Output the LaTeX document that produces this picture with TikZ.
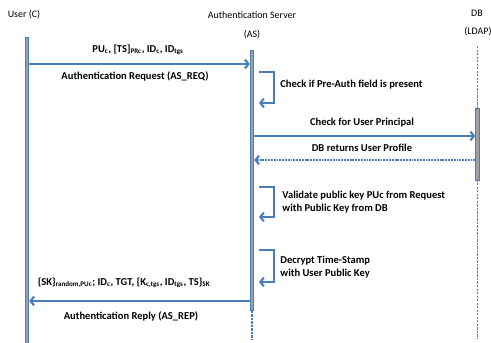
\documentclass[tikz,border=0pt]{standalone}
\usepackage{fontspec}
\setmainfont{Carlito}
\usetikzlibrary{arrows.meta}
\definecolor{msgblue}{HTML}{4A7EBB}
\definecolor{bargray}{HTML}{9CA1A8}

\begin{document}
\begin{tikzpicture}[x=0.03cm, y=-0.03cm,
% common options for the lifeline bars:
bar/.style = {draw=msgblue, fill=bargray, line width=0.7pt, minimum width=0.11cm,
            inner sep=0, anchor=north},
% common options for the messages:
msg/.style = {draw=msgblue, line width=1.8pt, -{Straight Barb[length=3pt,width=7.5pt]}},
reply/.style = {msg, dash pattern=on 1.6pt off 0.8pt},
lifeline/.style = {draw=msgblue, line width=1pt, dash pattern=on 2pt off 1pt},
lbl/.style = {font=\fontsize{9}{10.5}\selectfont\bfseries, inner sep=1pt, align=left},
head/.style = {font=\fontsize{8.5}{10}\selectfont, inner sep=0}]
\useasboundingbox (0,0) rectangle (491,343);

% heads
\node[head] (user) at (24,15) {User (C)};
\node[head] (as) at (252,15) {Authentication Server};
\node[head] (asb) at (252,35) {(AS)};
\node[head] (db) at (477,13) {DB};
\node[head] (dbb) at (478,32) {(LDAP)};

% lifelines
\coordinate (asend) at (252,340);
\coordinate (dbtop) at (477.5,46);
\coordinate (dbend) at (477.5,338);
\draw[lifeline] (dbtop) -- (dbend);
\node[bar, minimum height=9.18cm] (userbar) at (27,37) {};
\node[bar, minimum height=7.8cm] (asbar) at (252,50) {};
\draw[lifeline] (asbar.south) -- (asend);
\node[bar, minimum height=2.16cm] (dbbar) at (477.5,108) {};

% AS_REQ
\coordinate (reqy) at (0,64);
\node[lbl] (req) at (138,50) {PU\textsubscript{c}, [TS]\textsubscript{PRc}, ID\textsubscript{c}, ID\textsubscript{tgs}};
\node[lbl] (reqname) at (135,76) {Authentication Request (AS\_REQ)};
\draw[msg] (userbar.east |- reqy) -- (asbar.west |- reqy);

% checks done by the AS
\coordinate (chk1) at (259,72);
\coordinate (chk1b) at (259,103);
\node[lbl, anchor=west] (chk1t) at (279,85) {Check if Pre-Auth field is present};
\draw[msg] (chk1) -- ++(15,0) |- (chk1b);

% user principal lookup
\coordinate (upy) at (0,136);
\coordinate (dby) at (0,160);
\node[lbl] (up) at (362,123) {Check for User Principal};
\node[lbl] (prof) at (362,148) {DB returns User Profile};
\draw[msg] (asbar.east |- upy) -- (dbbar.west |- upy);
\draw[reply] (dbbar.west |- dby) -- (asbar.east |- dby);

\coordinate (chk2) at (259,187);
\coordinate (chk2b) at (259,217);
\node[lbl, anchor=west] (chk2t) at (281,202) {Validate public key PUc from Request\\with Public Key from DB};
\draw[msg] (chk2) -- ++(15,0) |- (chk2b);

\coordinate (chk3) at (259,250);
\coordinate (chk3b) at (259,282);
\node[lbl, anchor=west] (chk3t) at (279,267) {Decrypt Time-Stamp\\with User Public Key};
\draw[msg] (chk3) -- ++(15,0) |- (chk3b);

% AS_REP
\coordinate (repy) at (0,301);
\node[lbl] (rep) at (124,283) {\{SK\}\textsubscript{random,PUc}; ID\textsubscript{c}, TGT, \{K\textsubscript{c,tgs}, ID\textsubscript{tgs}, TS\}\textsubscript{SK}};
\node[lbl] (repname) at (131,316) {Authentication Reply (AS\_REP)};
\draw[msg] (asbar.west |- repy) -- (userbar.east |- repy);
\end{tikzpicture}
\end{document}
